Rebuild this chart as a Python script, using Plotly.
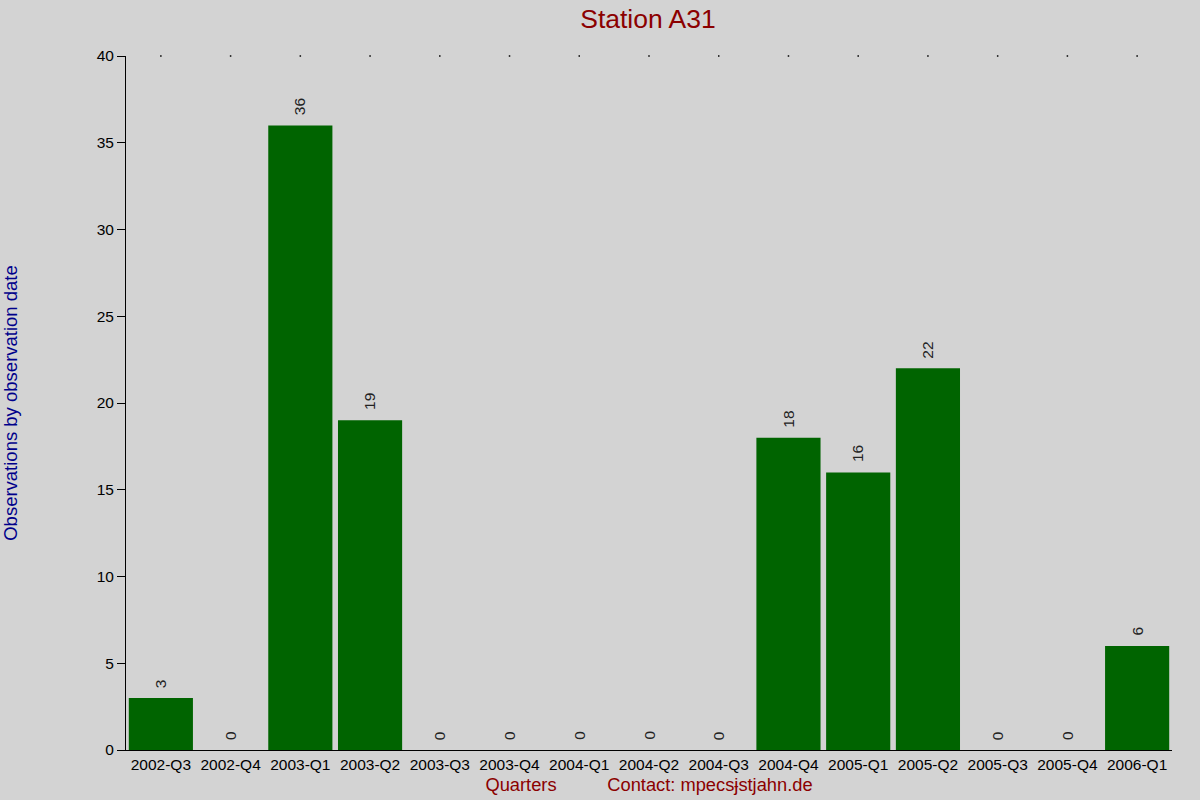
import plotly.graph_objects as go

# quarters and observation counts for station A31
quarters = ["2002-Q3", "2002-Q4", "2003-Q1", "2003-Q2", "2003-Q3", "2003-Q4",
            "2004-Q1", "2004-Q2", "2004-Q3", "2004-Q4", "2005-Q1", "2005-Q2",
            "2005-Q3", "2005-Q4", "2006-Q1"]
counts = [3, 0, 36, 19, 0, 0, 0, 0, 0, 18, 16, 22, 0, 0, 6]
y_ticks = [0, 5, 10, 15, 20, 25, 30, 35, 40]

FONT = "Liberation Sans, Arial, sans-serif"

fig = go.Figure()
fig.add_trace(go.Bar(
    x=quarters, y=counts,
    marker=dict(color="#006400", line=dict(width=0)),
    showlegend=False,
))
# little dots along the top edge
fig.add_trace(go.Scatter(
    x=quarters, y=[40] * len(quarters), mode="markers",
    marker=dict(symbol="square", size=1.5, color="black"),
    showlegend=False, hoverinfo="skip", cliponaxis=False,
))

# value labels, rotated, a bit above each bar
for q, c in zip(quarters, counts):
    fig.add_annotation(x=q, y=c, text=str(c), showarrow=False,
                       textangle=-90, yanchor="bottom", yshift=8,
                       font=dict(family=FONT, size=15.5, color="#222222"))

fig.update_layout(
    width=1200, height=800,
    paper_bgcolor="#d3d3d3", plot_bgcolor="#d3d3d3",
    margin=dict(l=126, r=28, t=56, b=50),
    bargap=0.08,
    font=dict(family=FONT, size=15.5, color="black"),
    title=dict(text="Station A31", x=0.54, xanchor="center", y=0.977,
               yanchor="middle", font=dict(size=26.5, color="#8b0000")),
    xaxis=dict(
        range=[-0.5, 14.5], automargin=False,
        showline=True, linecolor="black", linewidth=1,
        ticks="", showgrid=False, tickfont=dict(size=15.5),
        title=dict(text="Quarters" + "&nbsp;" * 10 + "Contact: mpecsɉstjahn.de",
                   font=dict(size=18.3, color="#8b0000"), standoff=6),
    ),
    yaxis=dict(
        range=[0, 40], tickvals=y_ticks, showline=True, linecolor="black",
        linewidth=1, ticks="outside", ticklen=8, tickcolor="black",
        showgrid=False, zeroline=False, tickfont=dict(size=15.5),
        automargin=False,
        title=dict(text="Observations by observation date",
                   font=dict(size=18.5, color="#00008b"), standoff=80),
    ),
)

fig.write_html("out.html", config={"displayModeBar": False},
               post_script="document.body.style.margin='0';")
